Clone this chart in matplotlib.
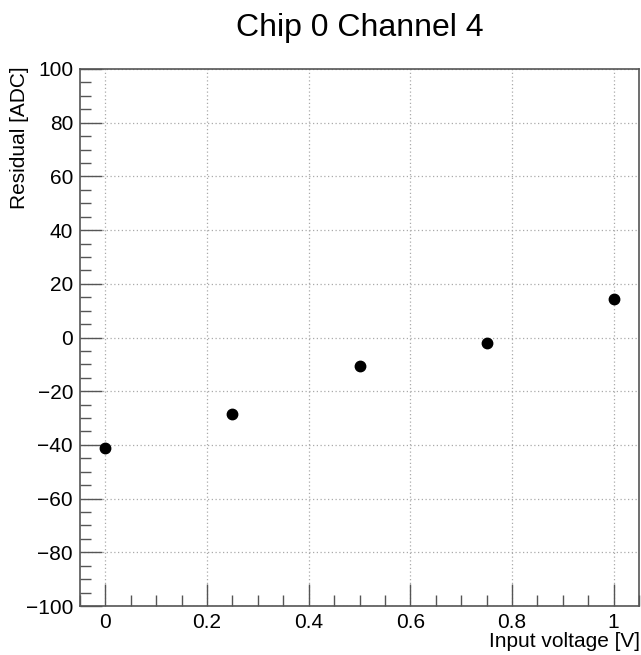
import numpy as np
import matplotlib as mpl
mpl.use("Agg")
import matplotlib.pyplot as plt
from matplotlib.ticker import MultipleLocator

voltage = [0.0, 0.25, 0.5, 0.75, 1.0]
residual = [-41.2, -28.5, -10.6, -2.0, 14.3]

plt.rcParams['font.family'] = ['Liberation Sans', 'DejaVu Sans']

fig = plt.figure(figsize=(6.41, 6.55), dpi=100)
ax = fig.add_axes([80 / 641, 1 - 606 / 655, 559 / 641, 537 / 655])

ax.plot(voltage, residual, 'o', color='k', ms=7.5, zorder=3)
ax.set_xlim(-0.05, 1.05)
ax.set_ylim(-100, 100)

ax.xaxis.set_major_locator(MultipleLocator(0.2))
ax.xaxis.set_minor_locator(MultipleLocator(0.05))
ax.yaxis.set_major_locator(MultipleLocator(20))
ax.yaxis.set_minor_locator(MultipleLocator(5))
ax.xaxis.set_major_formatter(mpl.ticker.FuncFormatter(lambda v, p: '%g' % round(v, 2)))
ax.yaxis.set_major_formatter(mpl.ticker.FuncFormatter(lambda v, p: ('%d' % v).replace('-', '\u2212')))

ax.tick_params(which='major', direction='in', length=16, width=1, color='#555555',
               labelsize=15, pad=5)
ax.tick_params(which='minor', direction='in', length=8, width=1, color='#555555')
ax.tick_params(top=False, right=False, which='both')
for s in ax.spines.values():
    s.set_color('#555555')
    s.set_linewidth(1.2)

ax.grid(which='major', linestyle=(0, (1, 2)), color='#aaaaaa', linewidth=0.9)

fig.text(360 / 641, 1 - 36 / 655, 'Chip 0 Channel 4', ha='center', va='baseline', fontsize=23)
fig.text(640 / 641, 1 - 647 / 655, 'Input voltage [V]', ha='right', va='baseline', fontsize=15)
fig.text(20 / 641, 1 - 66 / 655, 'Residual [ADC]', ha='center', va='top', rotation=90, fontsize=15)

fig.savefig('out.png', dpi=100)
